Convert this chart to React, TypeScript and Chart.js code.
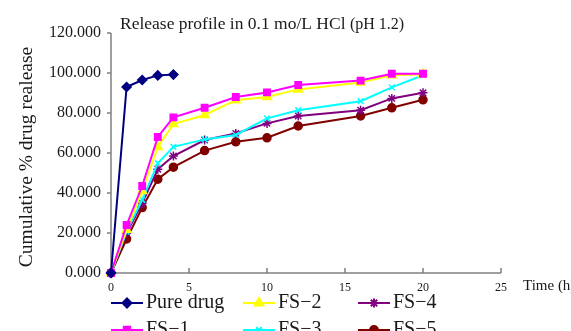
import React, { useEffect, useRef } from 'react';
import { Chart, registerables } from 'chart.js';
import { drawPoint } from 'chart.js/helpers';

Chart.register(...registerables);

const TIMES_PURE = [0, 1, 2, 3, 4];
const TIMES_FS = [0, 1, 2, 3, 4, 6, 8, 10, 12, 16, 18, 20];
const PURE_DRUG = [0, 93, 96.5, 98.8, 99.2];
const FS1 = [0, 24, 43.5, 68, 77.8, 82.6, 88, 90.3, 94, 96.2, 99.6, 99.6];
const FS2 = [0, 21.6, 41, 63, 74.5, 79, 86.4, 88, 91.8, 95.2, 98.9, 99.4];
const FS3 = [0, 20.7, 36.6, 54.9, 63.1, 66.8, 69, 77.3, 81.4, 85.9, 92.8, 98.9];
const FS4 = [0, 20, 34.9, 51.9, 58.5, 66.5, 69.8, 74.8, 78.5, 81.4, 87.3, 90.1];
const FS5 = [0, 17, 32.7, 46.9, 52.9, 61.2, 65.6, 67.6, 73.5, 78.5, 82.6, 86.6];

const TITLE_MAIN = 'Release profile in 0.1 mo/L HCl ';
const TITLE_SUB = '(pH 1.2)';
const Y_TITLE = 'Cumulative % drug realease';
const X_TITLE = 'Time (h)';

const SERIF = "'Liberation Serif', 'Times New Roman', serif";

const toPoints = (xs: number[], ys: number[]) => ys.map((v, i) => ({ x: xs[i], y: v }));

const mk = (label: string, xs: number[], ys: number[], color: string, pointStyle: string, radius: number) => ({
  label,
  data: toPoints(xs, ys),
  borderColor: color,
  backgroundColor: color,
  pointBackgroundColor: color,
  pointBorderColor: color,
  pointStyle,
  pointRadius: radius,
  pointBorderWidth: 1.5,
  borderWidth: 2,
  tension: 0,
  clip: false as const,
});

const axesPlugin = {
  id: 'axesDeco',
  beforeDatasetsDraw(chart: any) {
    const { ctx, chartArea: a, scales } = chart;
    const x = scales.x;
    const y = scales.y;
    ctx.save();
    ctx.strokeStyle = '#808080';
    ctx.lineWidth = 1.5;
    ctx.beginPath();
    ctx.moveTo(a.left, a.top);
    ctx.lineTo(a.left, a.bottom);
    ctx.moveTo(a.left, a.bottom);
    ctx.lineTo(a.right, a.bottom);
    y.ticks.forEach((t: any) => {
      const py = y.getPixelForValue(t.value);
      ctx.moveTo(a.left - 4, py);
      ctx.lineTo(a.left, py);
    });
    x.ticks.forEach((t: any) => {
      const px = x.getPixelForValue(t.value);
      ctx.moveTo(px, a.bottom);
      ctx.lineTo(px, a.bottom - 5);
    });
    ctx.stroke();
    ctx.restore();
  },
  afterDraw(chart: any) {
    const { ctx, chartArea: a } = chart;
    ctx.save();
    ctx.fillStyle = '#1a1a1a';
    ctx.textBaseline = 'middle';
    // title
    ctx.font = `17.5px ${SERIF}`;
    const w1 = ctx.measureText(TITLE_MAIN).width;
    ctx.textAlign = 'left';
    ctx.fillText(TITLE_MAIN, 120, 24);
    ctx.font = `16px ${SERIF}`;
    ctx.fillText(TITLE_SUB, 120 + w1, 25);
    // y title
    ctx.save();
    ctx.translate(27, 157);
    ctx.rotate(-Math.PI / 2);
    ctx.textAlign = 'center';
    ctx.font = `19.5px ${SERIF}`;
    ctx.fillText(Y_TITLE, 0, 0);
    ctx.restore();
    // x title
    ctx.textAlign = 'left';
    ctx.font = `15px ${SERIF}`;
    ctx.fillText(X_TITLE, a.right + 22, a.bottom + 13);
    // legend (column-major, 2 rows x 3 cols)
    const cols = [111, 243, 358];
    const rows = [303, 330];
    const ds = chart.data.datasets;
    ctx.font = `20px ${SERIF}`;
    ds.forEach((d: any, i: number) => {
      const cx = cols[Math.floor(i / 2)];
      const cy = rows[i % 2];
      ctx.strokeStyle = d.borderColor;
      ctx.lineWidth = 2;
      ctx.beginPath();
      ctx.moveTo(cx, cy);
      ctx.lineTo(cx + 32, cy);
      ctx.stroke();
      ctx.fillStyle = d.borderColor;
      drawPoint(ctx, { pointStyle: d.pointStyle, radius: d.pointRadius, borderWidth: 1.5, rotation: 0 } as any, cx + 16, cy);
      ctx.fillStyle = '#1a1a1a';
      ctx.fillText(d.label, cx + 35, cy);
    });
    ctx.restore();
  },
};

export default function App() {
  const ref = useRef<HTMLCanvasElement | null>(null);
  useEffect(() => {
    if (!ref.current) return;
    const chart = new Chart(ref.current, {
      type: 'line',
      data: {
        datasets: [
          mk('Pure drug', TIMES_PURE, PURE_DRUG, '#000080', 'rectRot', 4.5),
          mk('FS\u22121', TIMES_FS, FS1, '#ff00ff', 'rect', 4.5),
          mk('FS\u22122', TIMES_FS, FS2, '#ffff00', 'triangle', 5),
          mk('FS\u22123', TIMES_FS, FS3, '#00ffff', 'crossRot', 4),
          mk('FS\u22124', TIMES_FS, FS4, '#800080', 'star', 4.5),
          mk('FS\u22125', TIMES_FS, FS5, '#800000', 'circle', 4),
        ] as any,
      },
      options: {
        animation: false,
        responsive: false,
        devicePixelRatio: 1,
        layout: { padding: { top: 33, right: 70, left: 0, bottom: 0 } },
        plugins: { legend: { display: false }, tooltip: { enabled: false }, title: { display: false } },
        scales: {
          x: {
            type: 'linear',
            min: 0,
            max: 25,
            grid: { display: false, drawTicks: false },
            border: { display: false },
            ticks: { stepSize: 5, color: '#1a1a1a', padding: 8, font: { family: SERIF, size: 12 } },
            afterFit: (s: any) => { s.height = 58; },
          },
          y: {
            type: 'linear',
            min: 0,
            max: 120,
            grid: { display: false, drawTicks: false },
            border: { display: false },
            ticks: {
              stepSize: 20,
              color: '#1a1a1a',
              padding: 10,
              font: { family: SERIF, size: 16 },
              callback: (v: any) => Number(v).toFixed(3),
            },
            afterFit: (s: any) => { s.width = 111; },
          },
        },
      } as any,
      plugins: [axesPlugin],
    });
    return () => chart.destroy();
  }, []);
  return (
    <div style={{ position: 'absolute', left: 0, top: 0, width: 571, height: 331, background: '#fff' }}>
      <canvas ref={ref} width={571} height={331} style={{ width: 571, height: 331 }} />
    </div>
  );
}
